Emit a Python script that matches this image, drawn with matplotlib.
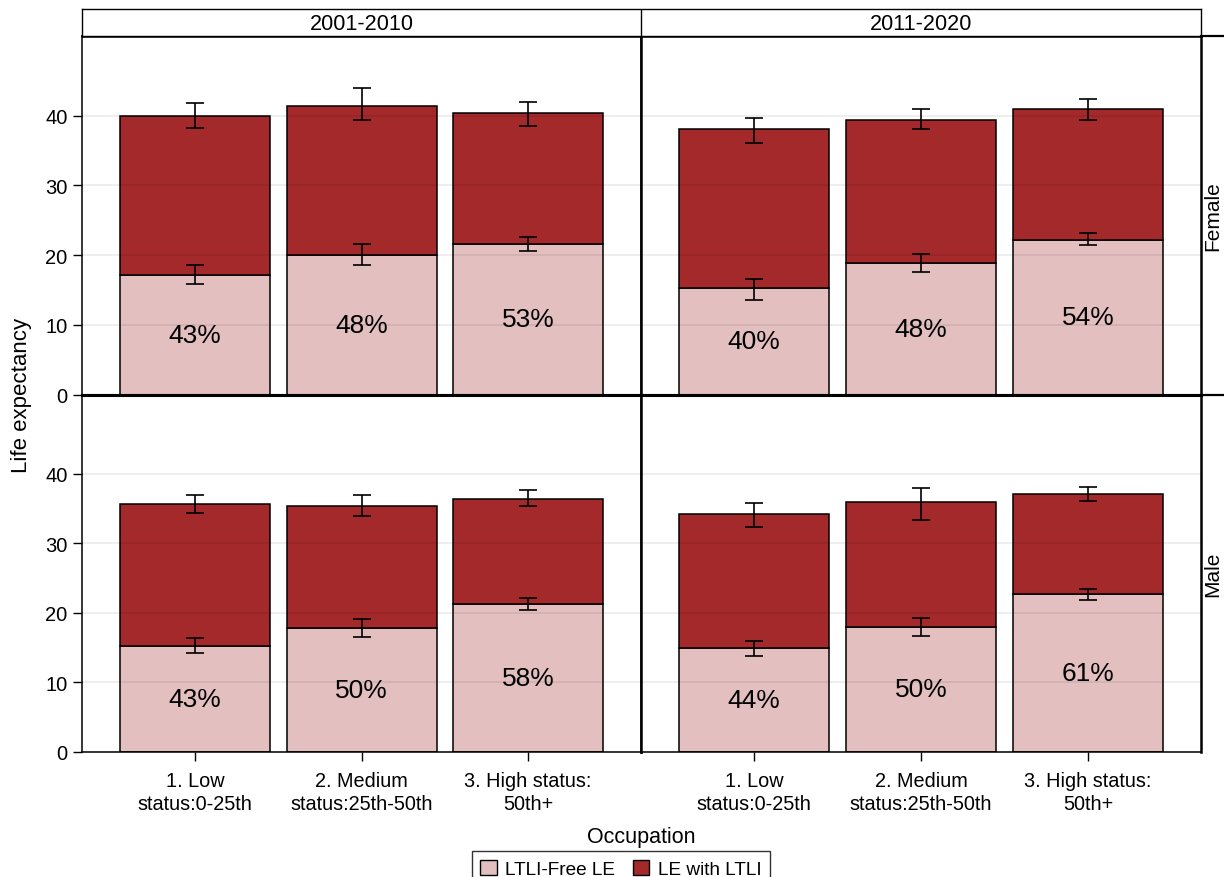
import numpy as np
import matplotlib.pyplot as plt
from matplotlib.lines import Line2D
from matplotlib.patches import Patch

plt.rcParams['font.family'] = ['Liberation Sans', 'DejaVu Sans']

periods = ['2001-2010', '2011-2020']
sexes = ['Female', 'Male']
occupations = ['1. Low\nstatus:0-25th', '2. Medium\nstatus:25th-50th', '3. High status:\n50th+']

# LTLI-free life expectancy and total life expectancy, with 95% limits
fem_0110_free = [17.15, 20.05, 21.55]
fem_0110_total = [40.0, 41.4, 40.3]
fem_0110_free_ci = [(15.8, 18.5), (18.6, 21.6), (20.55, 22.55)]
fem_0110_total_ci = [(38.2, 41.8), (39.3, 43.9), (38.5, 41.9)]

fem_1120_free = [15.2, 18.8, 22.2]
fem_1120_total = [38.0, 39.4, 41.0]
fem_1120_free_ci = [(13.6, 16.6), (17.6, 20.1), (21.5, 23.1)]
fem_1120_total_ci = [(36.0, 39.6), (38.0, 40.9), (39.4, 42.3)]

male_0110_free = [15.25, 17.8, 21.25]
male_0110_total = [35.6, 35.4, 36.4]
male_0110_free_ci = [(14.2, 16.4), (16.5, 19.1), (20.4, 22.1)]
male_0110_total_ci = [(34.3, 36.9), (34.0, 36.9), (35.3, 37.6)]

male_1120_free = [14.9, 18.0, 22.65]
male_1120_total = [34.2, 35.9, 37.1]
male_1120_free_ci = [(13.8, 16.0), (16.7, 19.3), (21.9, 23.5)]
male_1120_total_ci = [(32.4, 35.8), (33.4, 37.9), (36.1, 38.1)]

panels = {
    ('Female', '2001-2010'): (fem_0110_free, fem_0110_total, fem_0110_free_ci, fem_0110_total_ci),
    ('Female', '2011-2020'): (fem_1120_free, fem_1120_total, fem_1120_free_ci, fem_1120_total_ci),
    ('Male', '2001-2010'): (male_0110_free, male_0110_total, male_0110_free_ci, male_0110_total_ci),
    ('Male', '2011-2020'): (male_1120_free, male_1120_total, male_1120_free_ci, male_1120_total_ci),
}

light = '#e3bfc0'
dark = '#a3292b'

W, H = 1224, 878
fig = plt.figure(figsize=(W / 100, H / 100), dpi=100)

def box(x0, y0, x1, y1):
    # pixel box -> figure fraction rect
    return [x0 / W, 1 - y1 / H, (x1 - x0) / W, (y1 - y0) / H]

xs = [82, 641, 1201]
ys = [37, 395.5, 753]
x = np.arange(len(occupations))

axes = {}
for r, sex in enumerate(sexes):
    for c, period in enumerate(periods):
        ax = fig.add_axes(box(xs[c], ys[r], xs[c + 1], ys[r + 1]))
        axes[(sex, period)] = ax
        free, total, free_ci, total_ci = panels[(sex, period)]
        free = np.array(free)
        total = np.array(total)
        with_ltli = total - free

        ax.bar(x, free, width=0.9, color=light, edgecolor='black', linewidth=1.1, zorder=1)
        ax.bar(x, with_ltli, bottom=free, width=0.9, color=dark, edgecolor='black',
               linewidth=1.1, zorder=1)

        for lo_hi, mid in [(free_ci, free), (total_ci, total)]:
            lo = np.array([v[0] for v in lo_hi])
            hi = np.array([v[1] for v in lo_hi])
            ax.errorbar(x, mid, yerr=[mid - lo, hi - mid], fmt='none', ecolor='black',
                        elinewidth=1.2, capsize=6.5, capthick=1.2, zorder=3)

        for i in range(len(x)):
            pct = round(free[i] / total[i] * 100)
            ax.text(x[i], free[i] / 2, f'{pct}%', ha='center', va='center',
                    fontsize=19, zorder=5)

        ax.set_xlim(-0.677, 2.677)
        ax.set_ylim(0, 51.4)
        ax.set_yticks([0, 10, 20, 30, 40])
        ax.set_axisbelow(False)
        ax.yaxis.grid(True, color='black', alpha=0.08, linewidth=1.2)

        ax.tick_params(axis='y', labelsize=14.5, length=6.5, width=1, pad=4,
                       left=(c == 0), labelleft=(c == 0))
        ax.set_xticks(x)
        if r == 1:
            ax.set_xticklabels(occupations, fontsize=14.3, linespacing=1.3)
            ax.tick_params(axis='x', length=6.5, width=1, pad=7)
        else:
            ax.tick_params(axis='x', bottom=False, labelbottom=False)

        for s in ax.spines.values():
            s.set_linewidth(1.1)
        if c == 1:
            ax.spines['left'].set_linewidth(1.8)
            ax.spines['right'].set_linewidth(1.8)
        if r == 0:
            ax.spines['top'].set_linewidth(1.8)
            ax.spines['bottom'].set_linewidth(2.2)
        else:
            ax.spines['top'].set_linewidth(2.2)
        if c == 0:
            ax.spines['right'].set_linewidth(1.8)

# column header strip
head = fig.add_axes(box(82, 10, 1201, 37))
head.set_xlim(82, 1201)
head.set_ylim(0, 1)
head.set_xticks([])
head.set_yticks([])
for s in head.spines.values():
    s.set_linewidth(1.0)
head.axvline(641, color='black', linewidth=1.0)
for c, period in enumerate(periods):
    head.text((xs[c] + xs[c + 1]) / 2, 0.45, period, ha='center', va='center', fontsize=15.6)

# row strip on the right
for yy in [37, 395.5]:
    fig.add_artist(Line2D([1201 / W, 1], [1 - yy / H] * 2, color='black', linewidth=1.6))
for r, sex in enumerate(sexes):
    fig.text(1213 / W, 1 - (ys[r] + ys[r + 1]) / 2 / H, sex, rotation=90,
             ha='center', va='center', fontsize=15)

fig.text(21 / W, 1 - 395 / H, 'Life expectancy', rotation=90, ha='center', va='center',
         fontsize=16)
fig.text(641 / W, 1 - 838 / H, 'Occupation', ha='center', va='center', fontsize=15.5)

handles = [Patch(facecolor=light, edgecolor='black', linewidth=1.0, label='LTLI-Free LE'),
           Patch(facecolor=dark, edgecolor='black', linewidth=1.0, label='LE with LTLI')]
leg = fig.legend(handles=handles, loc='upper center', bbox_to_anchor=(621 / W, 1 - 852 / H),
                 ncol=2, fontsize=13.7, frameon=True, fancybox=False, handlelength=0.85,
                 handleheight=0.85, handletextpad=0.45, columnspacing=0.95, borderpad=0.45,
                 borderaxespad=0)
leg.get_frame().set_edgecolor('black')
leg.get_frame().set_linewidth(1.0)

fig.savefig('out.png', dpi=100)
